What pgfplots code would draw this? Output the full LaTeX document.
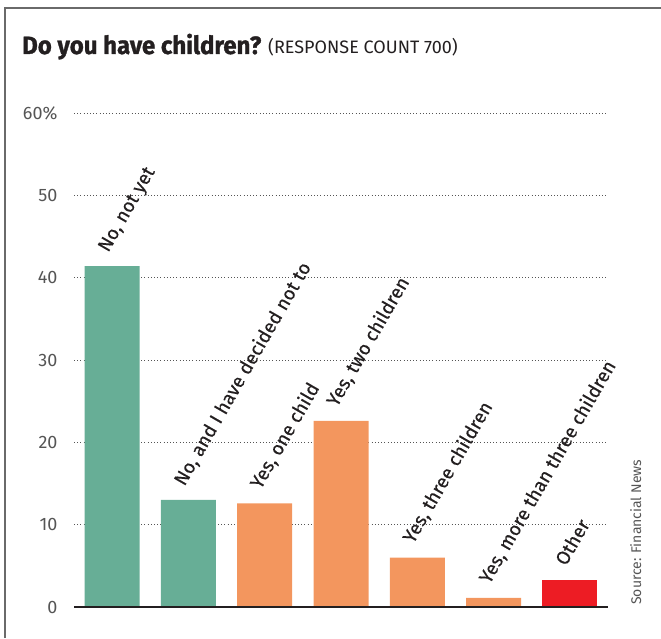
\documentclass[border=0pt]{standalone}
\usepackage{pgfplots}
\pgfplotsset{compat=1.18}
\usepackage{fontspec}
\setmainfont{Fira Sans}
\newfontfamily\titlefont[BoldFeatures={FakeBold=1.2}]{Fira Sans}
\newfontfamily\labelfont[FakeBold=0.4]{Fira Sans}
\definecolor{fngreen}{HTML}{67AE96}
\definecolor{fnorange}{HTML}{F3965E}
\definecolor{fnred}{HTML}{ED1C24}
\definecolor{fntext}{HTML}{231F20}
\definecolor{fngray}{HTML}{555555}
\definecolor{fnframe}{HTML}{6A6A6A}
\begin{document}
\begin{tikzpicture}[x=1pt,y=1pt]
\path[use as bounding box] (0,0) rectangle (661,638);
% frame
\draw[fnframe, line width=2pt] (5,0) -- (5,630) -- (661,630);
% title
\node[anchor=base west, inner sep=0, text=fntext] at (22,584)
  {\titlefont\fontsize{25}{27}\selectfont\bfseries\scalebox{0.96}[1]{Do you have children?}\hspace{7pt}\mdseries\fontsize{18}{20}\selectfont{(RESPONSE COUNT 700)}};
\begin{axis}[
  at={(74pt,31pt)}, anchor=south west,
  scale only axis, width=534pt, height=494pt,
  xmin=-0.5, xmax=6.5, ymin=0, ymax=60,
  axis line style={draw=none},
  major tick length=0pt,
  xtick=\empty,
  ytick={0,10,20,30,40,50,60},
  yticklabels={0,10,20,30,40,50,60\%},
  yticklabel style={font=\fontsize{18}{20}\selectfont, text=fngray, xshift=-13pt},
  /pgf/number format/assume math mode=true,
  ymajorgrids,
  grid style={draw=fngray, line width=1pt, dash pattern=on 0.8pt off 2.4pt},
  ybar, bar width=55pt, bar shift=0pt,
  clip=false,
]
\addplot[fill=fngreen, draw=none] coordinates {(0,41.4) (1,13.0)};
\addplot[fill=fnorange, draw=none] coordinates {(2,12.6) (3,22.6) (4,6.0) (5,1.1)};
\addplot[fill=fnred, draw=none] coordinates {(6,3.3)};
\draw[fntext, line width=2.5pt] (axis cs:-0.5,0) -- (axis cs:6.5,0);
\begin{scope}[every node/.style={anchor=base west, rotate=60, inner sep=0, text=fntext, font=\labelfont\fontsize{19}{21}\selectfont}]
\node at ([xshift=-4pt,yshift=13pt]axis cs:0,41.4) {No, not yet};
\node at ([xshift=-4pt,yshift=13pt]axis cs:1,13.0) {No, and I have decided not to};
\node at ([xshift=-4pt,yshift=13pt]axis cs:2,12.6) {Yes, one child};
\node at ([xshift=-4pt,yshift=13pt]axis cs:3,22.6) {Yes, two children};
\node at ([xshift=-4pt,yshift=13pt]axis cs:4,6.0) {Yes, three children};
\node at ([xshift=-4pt,yshift=13pt]axis cs:5,1.1) {Yes, more than three children};
\node at ([xshift=-4pt,yshift=13pt]axis cs:6,3.3) {Other};
\end{scope}
\end{axis}
\node[anchor=base west, rotate=90, inner sep=0, text=fngray, font=\fontsize{14}{16}\selectfont] at (641,33) {Source: Financial News};
\end{tikzpicture}
\end{document}
